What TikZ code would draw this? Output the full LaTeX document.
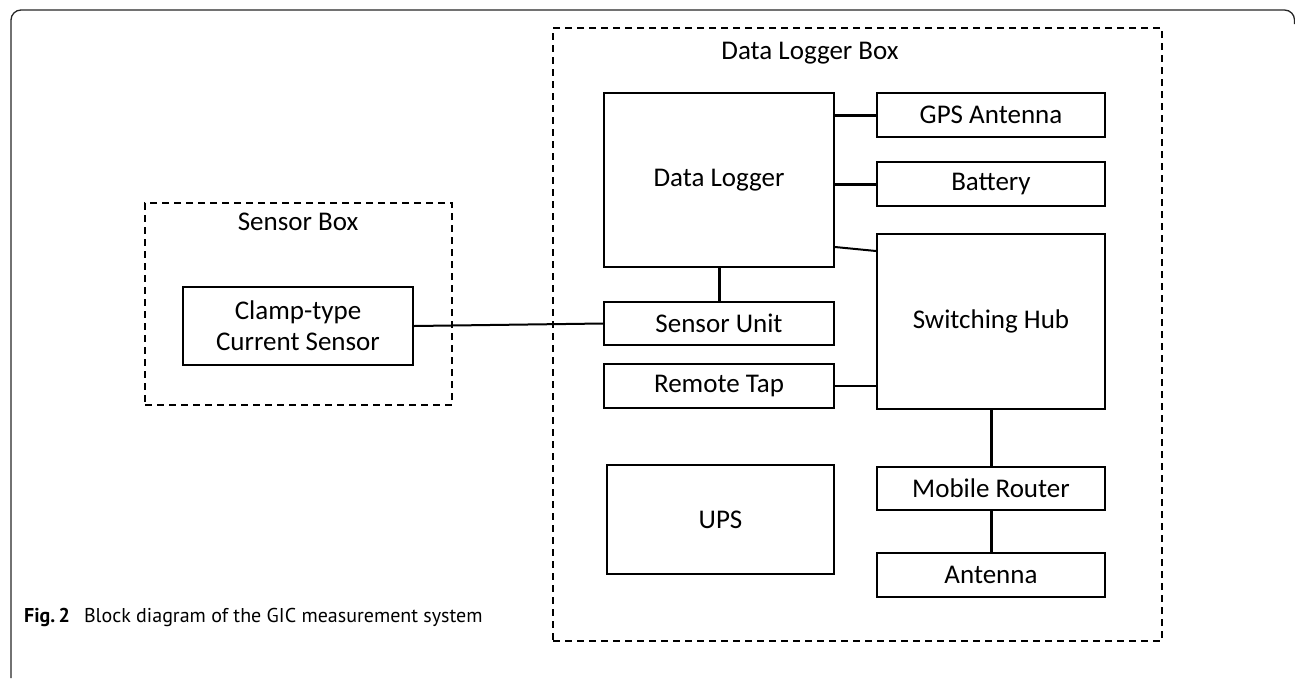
\documentclass[tikz,border=0pt]{standalone}
\usepackage{fontspec}
\setmainfont{Carlito}
\newfontfamily\capfont{PT Sans}
\begin{document}
\begin{tikzpicture}[x=1pt, y=-1pt,
  blk/.style={draw, line width=2pt, inner sep=0pt, align=center,
              font=\fontsize{27}{31}\selectfont},
  grp/.style={draw, line width=2pt, dash pattern=on 7pt off 5pt, inner sep=0pt},
  grplabel/.style={font=\fontsize{27}{31}\selectfont},
  link/.style={line width=3pt},
  thinlink/.style={line width=2pt},
  frame/.style={line width=1.3pt, draw=black!85}]
\useasboundingbox (0,0) rectangle (1295,678);

% outer figure frame
\draw[frame, rounded corners=10pt] (11,678) -- (11,10) -- (1294.5,10) -- (1294.5,24);

% group enclosures
\node[grp, minimum width=307pt, minimum height=202pt] (sbox) at (298.5,304) {};
\node[grp, minimum width=609pt, minimum height=613pt] (lbox) at (857.5,334.5) {};
\node[grplabel] (sboxlbl) at (298,222) {Sensor Box};
\node[grplabel] (lboxlbl) at (810,53) {Data Logger Box};

% blocks
\node[blk, minimum width=230pt, minimum height=78pt] (clamp) at (298,326)
  {Clamp-type\\Current Sensor};
\node[blk, minimum width=230pt, minimum height=174pt] (dl) at (719,180) {Data Logger};
\node[blk, minimum width=228pt, minimum height=44pt] (gps) at (991,115) {GPS Antenna};
\node[blk, minimum width=228pt, minimum height=44pt] (bat) at (991,184) {Battery};
\node[blk, minimum width=228pt, minimum height=175pt] (hub) at (991,321.5) {Switching Hub};
\node[blk, minimum width=230pt, minimum height=43pt] (su) at (719,323.5) {Sensor Unit};
\node[blk, minimum width=230pt, minimum height=44pt] (rt) at (719,386) {Remote Tap};
\node[blk, minimum width=227pt, minimum height=109pt] (ups) at (720.5,519.5) {UPS};
\node[blk, minimum width=228pt, minimum height=43pt] (mr) at (991,488.5) {Mobile Router};
\node[blk, minimum width=228pt, minimum height=44pt] (ant) at (991,575) {Antenna};

% connections
\draw[link] (dl.east |- gps.west) -- (gps.west);
\draw[link] (dl.east |- bat.west) -- (bat.west);
\draw[thinlink] (dl.east |- 0,247) -- (hub.west |- 0,251);
\draw[link] (dl.south) -- (su.north);
\draw[thinlink] (clamp.east) -- (su.west);
\draw[thinlink] (rt.east) -- (hub.west |- rt.east);
\draw[link] (hub.south) -- (mr.north);
\draw[link] (mr.south) -- (ant.north);

% caption
\node[anchor=west, inner sep=0pt, font=\capfont\fontsize{20}{24}\selectfont] (cap) at (24,617)
  {\textbf{Fig.\,2}\hspace{0.7em}Block diagram of the GIC measurement system};
\end{tikzpicture}
\end{document}
